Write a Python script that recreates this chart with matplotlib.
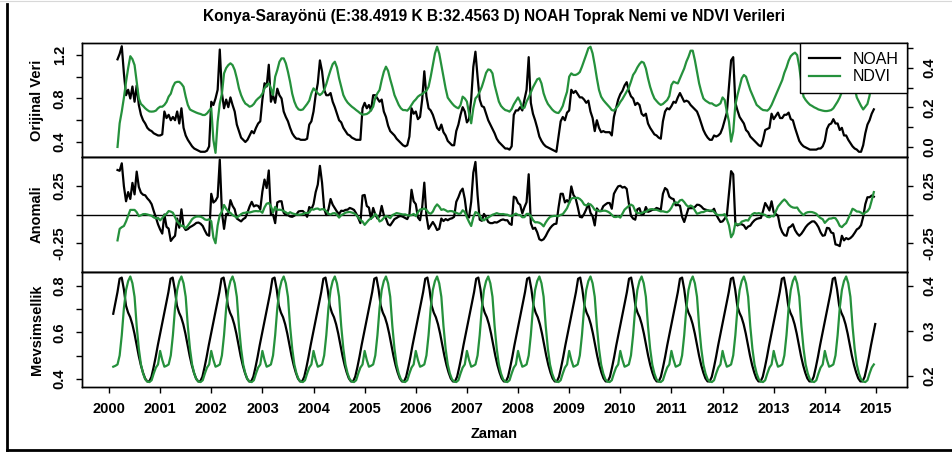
import numpy as np
import matplotlib
matplotlib.use("Agg")
import matplotlib.pyplot as plt
from matplotlib.lines import Line2D

plt.rcParams['font.family'] = ['Liberation Sans', 'DejaVu Sans']

# ---------------- data ----------------
title = "Konya-Sarayönü (E:38.4919 K B:32.4563 D) NOAH Toprak Nemi ve NDVI Verileri"
series_names = ["NOAH", "NDVI"]
panel_labels = ["Orijinal Veri", "Anomali", "Mevsimsellik"]
x_label = "Zaman"
year_ticks = list(range(2000, 2016))
samples_per_year = 24
start_index = 2               # first sample at 2000 + 2/24
noah_cycle_years = 0.9963     # length of the NOAH seasonal cycle on the time axis
noah_cycle_end = 2015.0       # last date of the NOAH seasonal curve

nan = float('nan')
noah_original = [
    nan, nan, 1.16, 1.21, 1.28, 1.03, 0.83, 0.88, 0.80, 0.91, 0.77, 0.92, 0.74, 0.65, 0.60, 0.57, 0.53, 0.51, 0.50, 0.48, 0.47, 0.46,
    0.46, 0.47, 0.68, 0.62, 0.65, 0.60, 0.63, 0.60, 0.68, 0.57, 0.71, 0.53, 0.46, 0.42, 0.39, 0.36, 0.34, 0.33, 0.32, 0.31, 0.31, 0.31, 0.32, 0.36,
    0.77, 0.74, 0.80, 0.88, 1.25, 0.85, 0.71, 0.79, 0.72, 0.81, 0.74, 0.68, 0.56, 0.50, 0.44, 0.42, 0.40, 0.42, 0.46, 0.50, 0.48, 0.53, 0.57, 0.59,
    0.79, 0.94, 0.91, 1.11, 0.77, 0.83, 0.76, 0.89, 0.83, 0.80, 0.68, 0.63, 0.59, 0.53, 0.48, 0.45, 0.43, 0.43, 0.42, 0.42, 0.42, 0.43, 0.56, 0.59,
    0.68, 0.83, 0.94, 1.15, 1.05, 0.88, 0.83, 0.83, 0.85, 0.77, 0.72, 0.66, 0.60, 0.58, 0.53, 0.50, 0.47, 0.46, 0.44, 0.43, 0.42, 0.42, 0.42, 0.71,
    0.76, 0.71, 0.74, 0.69, 0.83, 0.83, 0.80, 0.77, 0.79, 0.68, 0.63, 0.55, 0.50, 0.48, 0.46, 0.43, 0.41, 0.39, 0.37, 0.36, 0.37, 0.45, 0.71, 0.66,
    0.68, 0.61, 0.63, 0.79, 1.05, 0.82, 0.71, 0.69, 0.65, 0.59, 0.53, 0.51, 0.56, 0.49, 0.46, 0.41, 0.39, 0.37, 0.37, 0.50, 0.56, 0.65, 0.72, 0.68,
    0.58, 0.61, 0.79, 1.09, 1.23, 1.00, 0.79, 0.73, 0.72, 0.66, 0.60, 0.56, 0.52, 0.48, 0.43, 0.40, 0.38, 0.36, 0.34, 0.34, 0.33, 0.36, 0.65, 0.69,
    0.69, 0.72, 0.69, 0.79, 0.88, 1.18, 0.76, 0.66, 0.60, 0.53, 0.45, 0.41, 0.38, 0.36, 0.35, 0.34, 0.33, 0.32, 0.31, 0.45, 0.59, 0.63, 0.60, 0.67,
    0.69, 0.88, 0.85, 0.87, 0.84, 0.81, 0.81, 0.79, 0.76, 0.78, 0.68, 0.62, 0.50, 0.60, 0.53, 0.49, 0.50, 0.49, 0.49, 0.49, 0.46, 0.63, 0.71, 0.79,
    0.84, 0.87, 0.92, 0.95, 0.87, 0.82, 0.80, 0.74, 0.76, 0.74, 0.66, 0.64, 0.66, 0.57, 0.53, 0.50, 0.47, 0.46, 0.44, 0.43, 0.59, 0.68, 0.71, 0.70,
    0.73, 0.77, 0.76, 0.81, 0.85, 0.81, 0.77, 0.78, 0.77, 0.74, 0.72, 0.70, 0.68, 0.63, 0.57, 0.51, 0.47, 0.44, 0.42, 0.42, 0.46, 0.45, 0.46, 0.48,
    0.53, 0.60, 0.67, 0.91, 1.15, 1.18, 0.76, 0.69, 0.63, 0.60, 0.57, 0.51, 0.49, 0.45, 0.43, 0.41, 0.39, 0.37, 0.36, 0.42, 0.51, 0.52, 0.53, 0.66,
    0.61, 0.64, 0.67, 0.62, 0.62, 0.65, 0.65, 0.67, 0.61, 0.60, 0.53, 0.47, 0.41, 0.38, 0.36, 0.35, 0.34, 0.33, 0.33, 0.33, 0.33, 0.34, 0.34, 0.36,
    0.41, 0.52, 0.56, 0.57, 0.61, 0.57, 0.57, 0.51, 0.53, 0.46, 0.46, 0.42, 0.39, 0.36, 0.34, 0.33, 0.31, 0.31, 0.37, 0.48, 0.56, 0.60, 0.66, 0.70,
]

ndvi_original = [
    nan, nan, 0.00, 0.12, 0.18, 0.25, 0.33, 0.40, 0.46, 0.445, 0.415, 0.33, 0.246, 0.218, 0.208, 0.196, 0.187, 0.18, 0.179, 0.18, 0.184, 0.196,
    0.204, 0.204, 0.213, 0.228, 0.255, 0.27, 0.305, 0.326, 0.33, 0.33, 0.32, 0.305, 0.255, 0.213, 0.19, 0.184, 0.179, 0.174, 0.17, 0.167, 0.162, 0.162, 0.17, 0.184,
    0.196, 0.035, -0.03, 0.128, 0.22, 0.27, 0.373, 0.40, 0.415, 0.424, 0.415, 0.39, 0.348, 0.297, 0.263, 0.238, 0.22, 0.213, 0.204, 0.208, 0.218, 0.235, 0.246, 0.255,
    0.27, 0.297, 0.314, 0.322, 0.297, 0.263, 0.356, 0.39, 0.432, 0.449, 0.449, 0.424, 0.381, 0.33, 0.27, 0.23, 0.204, 0.19, 0.187, 0.19, 0.204, 0.218, 0.235, 0.272,
    0.297, 0.285, 0.272, 0.263, 0.272, 0.289, 0.319, 0.356, 0.39, 0.42, 0.432, 0.403, 0.348, 0.305, 0.263, 0.241, 0.225, 0.214, 0.204, 0.196, 0.187, 0.179, 0.17, 0.164,
    0.165, 0.167, 0.174, 0.187, 0.204, 0.25, 0.272, 0.289, 0.339, 0.381, 0.407, 0.386, 0.343, 0.305, 0.263, 0.238, 0.213, 0.196, 0.187, 0.187, 0.184, 0.196, 0.213, 0.23,
    0.241, 0.255, 0.263, 0.268, 0.277, 0.285, 0.305, 0.356, 0.415, 0.474, 0.508, 0.474, 0.415, 0.356, 0.297, 0.25, 0.235, 0.221, 0.209, 0.201, 0.196, 0.213, 0.255, 0.246,
    0.23, 0.17, 0.12, 0.196, 0.246, 0.258, 0.28, 0.305, 0.339, 0.376, 0.393, 0.39, 0.373, 0.314, 0.272, 0.23, 0.208, 0.196, 0.187, 0.184, 0.179, 0.192, 0.216, 0.233,
    0.251, 0.23, 0.196, 0.199, 0.23, 0.251, 0.277, 0.302, 0.322, 0.343, 0.348, 0.322, 0.272, 0.241, 0.218, 0.204, 0.19, 0.18, 0.174, 0.172, 0.187, 0.208, 0.246, 0.28,
    0.356, 0.373, 0.365, 0.365, 0.37, 0.38, 0.407, 0.437, 0.468, 0.5, 0.508, 0.474, 0.415, 0.348, 0.289, 0.255, 0.238, 0.225, 0.213, 0.201, 0.187, 0.184, 0.196, 0.209,
    0.228, 0.243, 0.262, 0.28, 0.30, 0.331, 0.365, 0.381, 0.403, 0.42, 0.432, 0.427, 0.398, 0.348, 0.305, 0.272, 0.246, 0.233, 0.221, 0.213, 0.218, 0.228, 0.238, 0.258,
    0.314, 0.331, 0.326, 0.322, 0.348, 0.373, 0.398, 0.432, 0.457, 0.488, 0.488, 0.44, 0.381, 0.322, 0.28, 0.246, 0.235, 0.228, 0.221, 0.221, 0.213, 0.208, 0.213, 0.221,
    0.251, 0.238, 0.179, 0.128, 0.027, 0.078, 0.213, 0.263, 0.305, 0.348, 0.365, 0.356, 0.322, 0.289, 0.263, 0.238, 0.213, 0.204, 0.194, 0.187, 0.186, 0.184, 0.194, 0.213,
    0.238, 0.263, 0.289, 0.314, 0.339, 0.376, 0.403, 0.437, 0.46, 0.471, 0.478, 0.466, 0.407, 0.322, 0.255, 0.238, 0.225, 0.214, 0.208, 0.201, 0.196, 0.19, 0.187, 0.184,
    0.182, 0.182, 0.184, 0.187, 0.196, 0.213, 0.23, 0.251, 0.28, 0.32, 0.345, 0.37, 0.38, 0.36, 0.30, 0.251, 0.23, 0.208, 0.19, 0.204, 0.218, 0.26, 0.34, 0.42,
]

# one-year seasonal cycle (24 samples per cycle, starting 1 January)
noah_seasonal_cycle = [0.59, 0.636, 0.68, 0.727, 0.773, 0.83, 0.835, 0.785, 0.715, 0.685, 0.665, 0.635,
                       0.595, 0.547, 0.50, 0.46, 0.428, 0.403, 0.39, 0.39, 0.41, 0.45, 0.495, 0.545]
ndvi_seasonal_cycle = [0.255, 0.235, 0.22, 0.222, 0.225, 0.245, 0.29, 0.35, 0.39, 0.41, 0.42, 0.405,
                       0.375, 0.31, 0.26, 0.225, 0.205, 0.192, 0.187, 0.186, 0.19, 0.205, 0.218, 0.225]

# ---------------- derived series ----------------
noah = np.array(noah_original, dtype=float)
ndvi = np.array(ndvi_original, dtype=float)
assert len(noah) == len(ndvi)
k = start_index + np.arange(len(noah))
t = 2000 + k / samples_per_year

# NOAH seasonal curve: repeating cycle on its own (slightly shorter) time step
noah_step = noah_cycle_years / samples_per_year
ks = np.arange(start_index, int((noah_cycle_end - 2000) / noah_step + 1e-9) + 1)
ts = 2000 + ks * noah_step
noah_seas_curve = np.array(noah_seasonal_cycle)[ks % samples_per_year]
noah_seas = noah_seas_curve[:len(noah)]
ndvi_seas = np.array(ndvi_seasonal_cycle)[k % samples_per_year]
noah_anom = noah - noah_seas
ndvi_anom = ndvi - ndvi_seas

# ---------------- figure ----------------
W, H = 953, 455
fig = plt.figure(figsize=(W / 100, H / 100), dpi=100)
GREEN = "#25913c"
LW = 1.6
FS = 10.5


def rect(x0, y0, x1, y1):
    return [x0 / W, 1 - y1 / H, (x1 - x0) / W, (y1 - y0) / H]


XL, XR = 82, 907
tops = [(43, 157), (157, 272), (272, 387)]
axes = [fig.add_axes(rect(XL, a, XR, b)) for a, b in tops]
twins = [ax.twinx() for ax in axes]

xlim = (1999.472, 2015.607)


def style(ax):
    for sp in ax.spines.values():
        sp.set_linewidth(1.0)
        sp.set_color('black')
    ax.tick_params(axis='y', which='both', direction='out', length=4.5, width=1,
                   labelsize=FS, pad=6.5)
    for lb in ax.get_yticklabels():
        lb.set_rotation(90)
        lb.set_va('center')
        lb.set_fontweight('bold')


def set_y(ax, lim, ticks, labels):
    ax.set_ylim(*lim)
    ax.set_yticks(ticks)
    ax.set_yticklabels(labels)


# Panel 1: original
a, b = axes[0], twins[0]
a.plot(t, noah, color='black', lw=LW)
b.plot(t, ndvi, color=GREEN, lw=LW)
set_y(a, (0.262, 1.310), [0.4, 0.6, 0.8, 1.0, 1.2], ['0.4', '', '0.8', '', '1.2'])
set_y(b, (-0.051, 0.527), [0.0, 0.1, 0.2, 0.3, 0.4, 0.5], ['0.0', '', '0.2', '', '0.4', ''])

# Panel 2: anomaly
a, b = axes[1], twins[1]
a.plot(t, noah_anom, color='black', lw=LW)
b.plot(t, ndvi_anom, color=GREEN, lw=LW)
a.axhline(0, color='black', lw=1.0)
set_y(a, (-0.5, 0.5), [-0.25, 0.0, 0.25], ['-0.25', '', '0.25'])
set_y(b, (-0.5, 0.5), [-0.25, 0.0, 0.25], ['-0.25', '', '0.25'])

# Panel 3: seasonality
a, b = axes[2], twins[2]
a.plot(ts, noah_seas_curve, color='black', lw=LW)
b.plot(t, ndvi_seas, color=GREEN, lw=LW)
set_y(a, (0.366, 0.859), [0.4, 0.5, 0.6, 0.7, 0.8], ['0.4', '', '0.6', '', '0.8'])
set_y(b, (0.175, 0.43), [0.2, 0.3, 0.4], ['0.2', '0.3', '0.4'])

for ax in axes + twins:
    ax.set_xlim(*xlim)
    style(ax)

for ax in axes[:2] + twins[:2]:
    ax.tick_params(axis='x', bottom=False, labelbottom=False, top=False)
twins[2].tick_params(axis='x', bottom=False, labelbottom=False)
axes[2].set_xticks(year_ticks)
axes[2].tick_params(axis='x', direction='out', length=4.5, width=1, labelsize=FS, pad=6.5)
for lb in axes[2].get_xticklabels():
    lb.set_fontweight('bold')

# y labels
for (ya, yb), lab in zip(tops, panel_labels):
    fig.text(37 / W, 1 - (ya + yb) / 2 / H, lab, rotation=90, ha='center', va='center',
             fontsize=FS, fontweight='bold')

fig.text((XL + XR) / 2 / W, 1 - 16 / H, title, ha='center', va='center',
         fontsize=11.2, fontweight='bold')
fig.text((XL + XR) / 2 / W, 1 - 434 / H, x_label, ha='center', va='center',
         fontsize=FS, fontweight='bold')

# legend
handles = [Line2D([], [], color='black', lw=LW), Line2D([], [], color=GREEN, lw=LW)]
leg = twins[0].legend(handles, series_names, loc='upper right', bbox_to_anchor=(1, 1),
                      borderaxespad=0, frameon=True, fancybox=False, edgecolor='black',
                      framealpha=1, prop={'size': 11.5, 'weight': 'normal'},
                      handlelength=1.95, handletextpad=0.75, borderpad=0.55,
                      labelspacing=0.15)
leg.get_frame().set_linewidth(1.0)

# outer frame (left and bottom border of the original figure)
fig.add_artist(Line2D([7.5 / W, 7.5 / W], [1 - 4 / H, 1 - 450 / H], color='black', lw=2.0,
                      transform=fig.transFigure))
fig.add_artist(Line2D([6.5 / W, 1.0], [1 - 449.5 / H, 1 - 449.5 / H], color='black', lw=2.0,
                      transform=fig.transFigure))
fig.add_artist(Line2D([0, 1], [1 - 0.5 / H, 1 - 0.5 / H], color='#d8d8d8', lw=0.8,
                      transform=fig.transFigure))

fig.savefig("out.png", dpi=100)
